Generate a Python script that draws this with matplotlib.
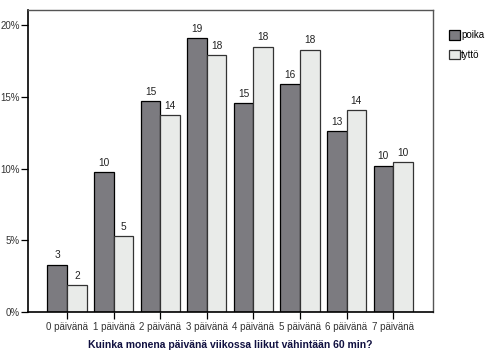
import numpy as np
import matplotlib.pyplot as plt

plt.rcParams['font.family'] = ['Liberation Sans', 'DejaVu Sans']

categories = ['0 päivänä', '1 päivänä', '2 päivänä', '3 päivänä',
              '4 päivänä', '5 päivänä', '6 päivänä', '7 päivänä']
poika = [3.3, 9.75, 14.7, 19.1, 14.55, 15.9, 12.6, 10.2]
tytto = [1.85, 5.3, 13.75, 17.9, 18.5, 18.3, 14.1, 10.45]
poika_lbl = [3, 10, 15, 19, 15, 16, 13, 10]
tytto_lbl = [2, 5, 14, 18, 18, 18, 14, 10]
yticks = [0, 5, 10, 15, 20]

fig = plt.figure(figsize=(4.9, 3.52), dpi=100)
ax = fig.add_axes([0.057, 0.114, 0.827, 0.859])

x = np.arange(len(categories))
w = 0.42
b1 = ax.bar(x - w/2, poika, w, color='#7c7b80', edgecolor='black', linewidth=0.9, label='poika')
b2 = ax.bar(x + w/2, tytto, w, color='#e9ebe9', edgecolor='#333333', linewidth=0.9, label='tyttö')

for xi, v, l in zip(x, poika, poika_lbl):
    ax.text(xi - w/2, v + 0.3, str(l), ha='center', va='bottom', fontsize=7.3, color='#222222')
for xi, v, l in zip(x, tytto, tytto_lbl):
    ax.text(xi + w/2, v + 0.3, str(l), ha='center', va='bottom', fontsize=7.3, color='#222222')

ax.set_xlim(-0.84, 7.86)
ax.set_ylim(0, 21.1)
ax.set_yticks(yticks)
ax.set_yticklabels([f'{t}%' for t in yticks], fontsize=7, color='#333333')
ax.set_xticks(x)
ax.set_xticklabels(categories, fontsize=7, color='#333333')
ax.tick_params(axis='both', direction='out', length=5, width=0.9, pad=2)
ax.tick_params(axis='y', pad=1)

for s in ['left', 'bottom']:
    ax.spines[s].set_linewidth(1.2)
    ax.spines[s].set_color('black')
for s in ['top', 'right']:
    ax.spines[s].set_linewidth(1.0)
    ax.spines[s].set_color('#555555')

ax.set_xlabel('Kuinka monena päivänä viikossa liikut vähintään 60 min?',
              fontsize=7.5, fontweight='bold', color='#101040', labelpad=6)

leg = fig.legend(handles=[b1, b2], loc='upper left', bbox_to_anchor=(0.908, 0.925),
                 frameon=False, fontsize=7, handlelength=1.1, handleheight=1.1,
                 handletextpad=0.15, labelspacing=1.0, borderaxespad=0)

fig.savefig('out.png', dpi=100)
